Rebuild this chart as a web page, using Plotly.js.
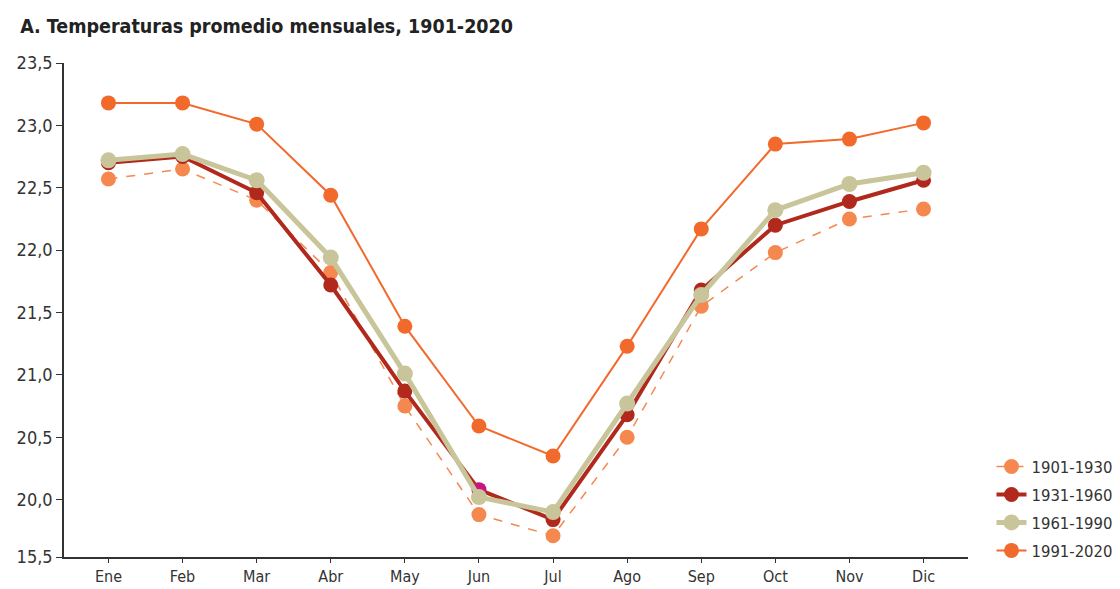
<!DOCTYPE html>
<html>
<head>
<meta charset="utf-8">
<script src="https://cdn.plot.ly/plotly-3.0.1.min.js"></script>
<style>
  html, body { margin: 0; padding: 0; background: #fff; }
  #chart { width: 1120px; height: 589px; }
</style>
</head>
<body>
<div id="chart"></div>
<script>
const months = ["Ene","Feb","Mar","Abr","May","Jun","Jul","Ago","Sep","Oct","Nov","Dic"];
const s1901_1930 = [22.57, 22.65, 22.40, 21.82, 20.75, 19.88, 19.71, 20.50, 21.55, 21.98, 22.25, 22.33];
const s1931_1960 = [22.70, 22.75, 22.46, 21.72, 20.87, 20.08, 19.84, 20.68, 21.68, 22.20, 22.39, 22.56];
const s1961_1990 = [22.72, 22.77, 22.56, 21.94, 21.01, 20.02, 19.90, 20.77, 21.64, 22.32, 22.53, 22.62];
const s1991_2020 = [23.18, 23.18, 23.01, 22.44, 21.39, 20.59, 20.35, 21.23, 22.17, 22.85, 22.89, 23.02];
const seriesNames = ["1901-1930", "1931-1960", "1961-1990", "1991-2020"];
const yTickVals = [19.54, 20.0, 20.5, 21.0, 21.5, 22.0, 22.5, 23.0, 23.5];
const yTickText = ["15,5", "20,0", "20,5", "21,0", "21,5", "22,0", "22,5", "23,0", "23,5"];

const FONT = '"DejaVu Sans Condensed", "Liberation Sans Narrow", "Roboto", sans-serif';
const x = months.map((m, i) => i);

const darkRedMarkers = months.map(m => m === "Jun" ? "#C8157F" : "#B0291C");

const traces = [
  { x, y: s1901_1930, name: seriesNames[0], mode: "lines+markers",
    line: { color: "#F5884F", width: 1.5, dash: "dash" },
    marker: { color: "#F5884F", size: 15 } },
  { x, y: s1931_1960, name: seriesNames[1], mode: "lines+markers",
    line: { color: "#B0291C", width: 4 },
    marker: { color: darkRedMarkers, size: 15 } },
  { x, y: s1961_1990, name: seriesNames[2], mode: "lines+markers",
    line: { color: "#C9C59B", width: 5 },
    marker: { color: "#C9C59B", size: 16 } },
  { x, y: s1991_2020, name: seriesNames[3], mode: "lines+markers",
    line: { color: "#F2692C", width: 2 },
    marker: { color: "#F2692C", size: 15 } }
].map(t => Object.assign(t, { type: "scatter", hoverinfo: "x+y+name", legendgroup: t.name }));

const layout = {
  width: 1120, height: 589,
  paper_bgcolor: "#fff", plot_bgcolor: "#fff",
  margin: { l: 64, r: 152, t: 63, b: 32, autoexpand: false },
  font: { family: FONT, size: 18, color: "#333" },
  title: { text: "<b>A. Temperaturas promedio mensuales, 1901-2020</b>",
    x: 0.018, xanchor: "left", y: 0.955, yanchor: "middle",
    font: { family: FONT, size: 19.5, color: "#222" } },
  xaxis: {
    range: [-0.6, 11.6], tickvals: x, ticktext: months,
    showgrid: false, zeroline: false, showline: true, linecolor: "#333", linewidth: 1.5,
    ticks: "outside", ticklen: 4, tickcolor: "#333", tickwidth: 1,
    tickfont: { family: FONT, size: 16, color: "#333" }
  },
  yaxis: {
    range: [19.54, 23.5], tickvals: yTickVals, ticktext: yTickText,
    showgrid: false, zeroline: false, showline: true, linecolor: "#333", linewidth: 1.5,
    ticks: "outside", ticklen: 6, tickcolor: "#333", tickwidth: 1,
    tickfont: { family: FONT, size: 18, color: "#333" }
  },
  showlegend: true,
  legend: {
    x: 1.026, xanchor: "left", y: 0.218, yanchor: "top",
    font: { family: FONT, size: 16.5, color: "#333" },
    bgcolor: "rgba(0,0,0,0)", tracegroupgap: 3.5, itemwidth: 30
  }
};

Plotly.newPlot("chart", traces, layout, { displayModeBar: false, staticPlot: false });
</script>
</body>
</html>
